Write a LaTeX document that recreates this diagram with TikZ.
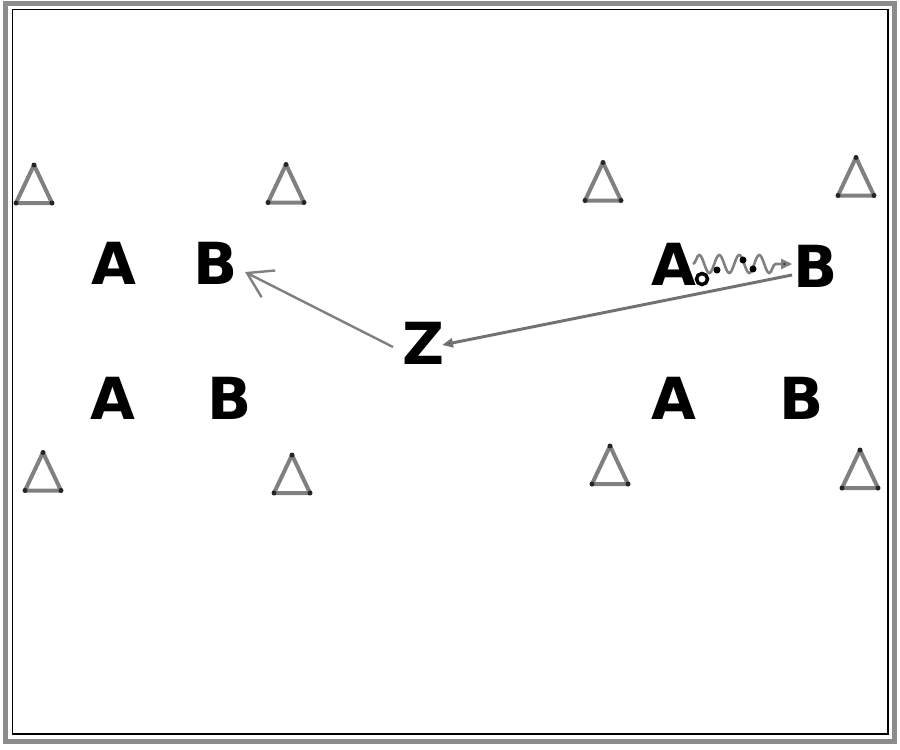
\documentclass[tikz,border=0pt]{standalone}
\usepackage{fontspec}
\setmainfont{DejaVu Sans}
\usetikzlibrary{arrows.meta,calc,decorations.pathmorphing}
\tikzset{
  letter/.style={inner sep=0pt, font=\fontsize{58}{58}\selectfont\bfseries, text=black},
  cone/.pic={\draw[black!50, line width=4pt, line join=round, line cap=round]
     (0,-19) -- (18,19) -- (-18,19) -- cycle;
     \fill[black!85] (0,-19) circle (2.5pt) (18,19) circle (2.5pt) (-18,19) circle (2.5pt);},
  run/.style={draw=black!50, line width=2.4pt, -{Straight Barb[length=24pt,width=30pt,line width=2.4pt]}},
  pass/.style={draw=black!55, line width=3pt, -{Triangle[length=11pt,width=9pt,fill=black]}},
  dribble/.style={draw=black!50, line width=2.6pt,
     decorate, decoration={snake, amplitude=9pt, segment length=20pt, post length=8pt},
  },
  dribtip/.style={-{Triangle[length=11pt,width=10pt,fill=black]}},
  ball/.style={circle, draw=black, line width=3.5pt, fill=white, minimum size=11pt, inner sep=0pt},
  dot/.style={circle, fill=black, minimum size=7pt, inner sep=0pt}
}
\begin{document}
\begin{tikzpicture}[x=1pt,y=-1pt]
\useasboundingbox (0,0) rectangle (900,750);
% frame
\draw[black!45, line width=5pt] (5,3) rectangle (894,741);
\draw[black, line width=1.3pt] (12.7,9.5) rectangle (888,734);
% cones
\pic at (34,184) {cone};
\pic at (286,183.5) {cone};
\pic at (603,181.5) {cone};
\pic at (856,176.5) {cone};
\pic at (43,471.5) {cone};
\pic at (292,474) {cone};
\pic at (610,465) {cone};
\pic at (860,469) {cone};
% players
\node[letter] (A1) at (114,263) {A};
\node[letter] (B1) at (216,263) {B};
\node[letter] (A2) at (113,398) {A};
\node[letter] (B2) at (230,398) {B};
\node[letter] (A3) at (674,264) {A};
\node[letter] (B3) at (816,266) {B};
\node[letter] (A4) at (674,398) {A};
\node[letter] (B4) at (802,398) {B};
\node[letter] (Z) at (424,343) {Z};
% ball
\node[ball] (ball) at (702,279) {};
% run Z -> B1
\draw[run] ($(Z.center)+(-31,4)$) -- ($(B1.center)+(29,9)$);
% pass B3 -> Z
\draw[pass] ($(B3.center)+(-24,9)$) -- ($(Z.center)+(18,2)$);
% dribble A3 -> B3
\draw[dribble] ($(A3.center)+(19,0)$) -- ($(B3.center)+(-26,-2)$);
\draw[draw=black!50, line width=2.6pt, dribtip] ($(B3.center)+(-34,-2)$) -- ($(B3.center)+(-24,-2)$);
\node[dot] (d1) at (717,270) {};
\node[dot] (d2) at (743,260) {};
\node[dot] (d3) at (753,269) {};
\end{tikzpicture}
\end{document}
